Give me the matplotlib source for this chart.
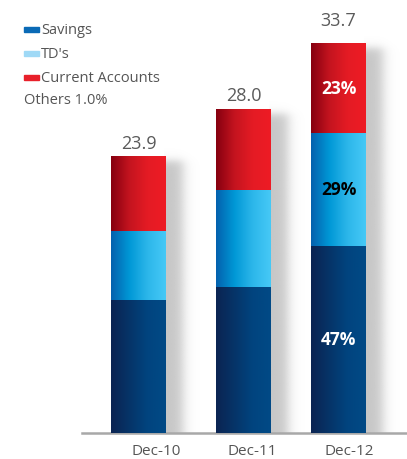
import matplotlib.pyplot as plt
import numpy as np
from matplotlib.colors import LinearSegmentedColormap
from matplotlib.patches import Rectangle

plt.rcParams['font.family'] = ['Open Sans', 'DejaVu Sans']

years = ['Dec-10', 'Dec-11', 'Dec-12']
totals = [23.9, 28.0, 33.7]
# share of deposits, percent
savings_pct = [47, 44, 47]
others_pct = [1, 1, 1]
tds_pct = [25, 30, 29]
current_pct = [27, 25, 23]
shown_pct = {'savings': [None, None, 47], 'tds': [None, None, 29], 'current': [None, None, 23]}

xpos = [0, 1.0, 1.905]
tick_pos = [0.17, 1.08, 2.01]
top_gap = [13, 14, 23]  # pixels between bar top and total label

W, H, DPI = 407, 460, 100
fig = plt.figure(figsize=(W / DPI, H / DPI), dpi=DPI)
ax = fig.add_axes([82 / W, (H - 434) / H, (W - 82) / W, 434 / H])
px_x = 105.0
px_y = 11.57
ax.set_xlim(-56.5 / px_x, (W - 138.5) / px_x)
ax.set_ylim(0, 434 / px_y)

cmaps = {
    'savings': LinearSegmentedColormap.from_list('sav', ['#0b2452', '#063468', '#01447f', '#014a86']),
    'tds': LinearSegmentedColormap.from_list('td', ['#0461ae', '#0098d6', '#2cb6ea', '#46c9f6']),
    'current': LinearSegmentedColormap.from_list('cur', ['#870010', '#c4141f', '#e41b24', '#ee1c25']),
}
width = 55 / px_x

grad = np.linspace(0, 1, 64).reshape(1, -1)

# soft drop shadow behind each bar
for x, tot in zip(xpos, totals):
    x0 = x - width / 2
    x1 = x + width / 2
    sx0, sx1 = x1 - 2 / px_x, x1 + 40 / px_x
    sy1 = tot - 3 / px_y
    nx, ny = 80, 200
    xs = np.linspace(sx0, sx1, nx)
    ys = np.linspace(0, sy1 + 12 / px_y, ny)
    fx = 0.5 * (1 - np.tanh(((xs - x1) * px_x - 17) / 7))
    fy = 0.5 * (1 - np.tanh(((ys - sy1) * px_y + 1) / 5))
    alpha = 0.55 * np.outer(fy, fx)
    img = np.zeros((ny, nx, 4))
    img[..., :3] = 0.6
    img[..., 3] = alpha
    ax.imshow(img, extent=(sx0, sx1, 0, sy1 + 12 / px_y), origin='lower',
              aspect='auto', zorder=1, interpolation='bilinear')

bottom = np.zeros(3)
segments = [
    ('savings', [s + o for s, o in zip(savings_pct, others_pct)]),
    ('tds', tds_pct),
    ('current', current_pct),
]
for key, pct in segments:
    vals = np.array([t * p / 100 for t, p in zip(totals, pct)])
    bars = ax.bar(xpos, vals, width, bottom=bottom, color='none', zorder=2)
    for rect in bars:
        x0, y0 = rect.get_x(), rect.get_y()
        im = ax.imshow(grad, extent=(x0, x0 + rect.get_width(), y0, y0 + rect.get_height()),
                       cmap=cmaps[key], aspect='auto', zorder=3, interpolation='bilinear')
        im.set_clip_path(rect)
    for i, lbl in enumerate(shown_pct[key]):
        if lbl is None:
            continue
        tc = 'black' if key == 'tds' else 'white'
        ax.text(xpos[i], bottom[i] + vals[i] / 2, f'{lbl}%', ha='center', va='center',
                color=tc, fontsize=12.5, fontweight='bold', zorder=5)
    bottom += vals

for x, tot, gap in zip(xpos, totals, top_gap):
    ax.annotate(f'{tot:.1f}', (x, tot), xytext=(0, gap * 72 / DPI), textcoords='offset points',
                ha='center', va='center', fontsize=13, color='#5a5a5a')

ax.set_xticks(tick_pos)
ax.set_xticklabels(years, fontsize=11, color='#555555')
ax.tick_params(axis='x', length=0, pad=7)
ax.set_yticks([])
for s in ['top', 'left', 'right']:
    ax.spines[s].set_visible(False)
ax.spines['bottom'].set_color('#a8a8a8')
ax.spines['bottom'].set_linewidth(1.8)

# legend
legend = [('Savings', '#0a6ab6'), ("TD's", '#9fd9f6'), ('Current Accounts', '#e8202a')]
for i, (name, col) in enumerate(legend):
    yc = 30 + 24 * i
    fig.add_artist(Rectangle((24 / W, 1 - (yc + 3) / H), 15 / W, 5 / H,
                             transform=fig.transFigure, color=col))
    fig.text(41 / W, 1 - yc / H, name, fontsize=10.5, color='#555555', va='center')
fig.text(24 / W, 1 - 101 / H, 'Others 1.0%', fontsize=10.5, color='#555555', va='center')

fig.savefig('out.png', dpi=DPI)
